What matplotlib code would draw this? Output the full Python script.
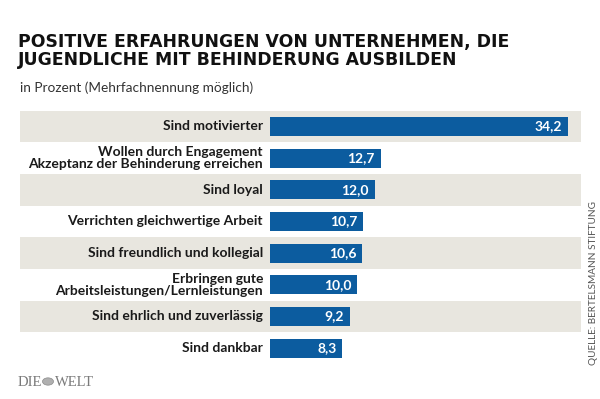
import matplotlib
matplotlib.use("Agg")
import matplotlib.pyplot as plt
from matplotlib.patches import Circle

categories = [
    "Sind motivierter",
    "Wollen durch Engagement\nAkzeptanz der Behinderung erreichen",
    "Sind loyal",
    "Verrichten gleichwertige Arbeit",
    "Sind freundlich und kollegial",
    "Erbringen gute\nArbeitsleistungen/Lernleistungen",
    "Sind ehrlich und zuverlässig",
    "Sind dankbar",
]
values = [34.2, 12.7, 12.0, 10.7, 10.6, 10.0, 9.2, 8.3]
value_labels = ["34,2", "12,7", "12,0", "10,7", "10,6", "10,0", "9,2", "8,3"]

title_lines = ["POSITIVE ERFAHRUNGEN VON UNTERNEHMEN, DIE",
               "JUGENDLICHE MIT BEHINDERUNG AUSBILDEN"]
subtitle = "in Prozent (Mehrfachnennung möglich)"
source = "QUELLE: BERTELSMANN STIFTUNG"

BAR = "#0c5c9f"
BAND = "#e8e6df"
FONT = "Lato"

W, H = 600, 399
fig = plt.figure(figsize=(W / 100, H / 100), dpi=100)
fig.patch.set_facecolor("white")

# axes geometry in pixels
ax_left, ax_right = 20, 581
ax_top, ax_bot = 110.5, 364.0
ax = fig.add_axes([ax_left / W, 1 - ax_bot / H, (ax_right - ax_left) / W, (ax_bot - ax_top) / H])
zero_px = 270
px_per_unit = (568 - 270) / 34.2
ax.set_xlim(-(zero_px - ax_left) / px_per_unit, (ax_right - zero_px) / px_per_unit)
n = len(categories)
ax.set_ylim(n - 0.5, -0.5)
ax.axis("off")

for i in range(n):
    if i % 2 == 0:
        ax.axhspan(i - 0.5, i + 0.5, color=BAND, lw=0, zorder=0)

ypos = list(range(n))
ax.barh(ypos, values, height=0.6, color=BAR, zorder=2)

lab_off = -7 / px_per_unit
for i, (cat, v, vl) in enumerate(zip(categories, values, value_labels)):
    ax.text(lab_off, i, cat, ha="right", va="center", fontsize=10, fontweight="bold",
            family=FONT, color="#1a1a1a", linespacing=1.0)
    ax.text(v - 6 / px_per_unit, i, vl, ha="right", va="center", fontsize=10,
            fontweight="bold", family=FONT, color="white", zorder=3)

for k, line in enumerate(title_lines):
    fig.text(18 / W, 1 - (47 + 18.3 * k) / H, line, ha="left", va="baseline",
             fontsize=12.4, fontweight="bold", family="DejaVu Sans", color="#111111")
fig.text(20 / W, 1 - 88 / H, subtitle, ha="left", va="center", fontsize=9.8,
         family=FONT, color="#333333")

fig.text(593 / W, 1 - 283 / H, source, ha="center", va="center", rotation=90,
         fontsize=7.2, family=FONT, color="#555555")

# logo
fig.text(18 / W, 1 - 382 / H, "DIE", ha="left", va="center", fontsize=10.5,
         family="Liberation Serif", color="#7a7a7a")
fig.text(55 / W, 1 - 382 / H, "WELT", ha="left", va="center", fontsize=10.5,
         family="Liberation Serif", color="#7a7a7a")
fig.patches.append(Circle((48 / W, 1 - 381.5 / H), 5.5 / W, transform=fig.transFigure,
                          facecolor="#b0b0b0", edgecolor="#8a8a8a", lw=0.5))

fig.savefig("out.png", dpi=100)
